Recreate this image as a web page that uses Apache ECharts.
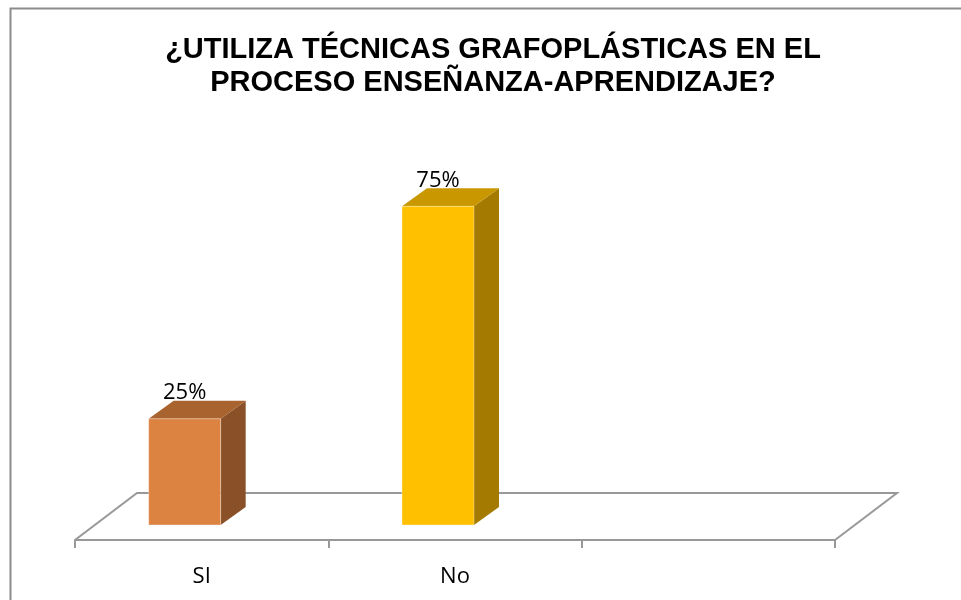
<!DOCTYPE html>
<html lang="es">
  <head>
    <meta charset="UTF-8" />
    <title>Técnicas grafoplásticas</title>
    <script src="https://cdn.jsdelivr.net/npm/echarts@6.0.0/dist/echarts.min.js"></script>
    <style>
      html, body { margin: 0; padding: 0; background: #fff; }
    </style>
  </head>
  <body>
    <div id="main" style="width: 961px; height: 600px"></div>
  </body>
  <script>
    // datos
    var categories = ["SI", "No", ""];
    var values = [25, 75, null];
    var valueLabels = ["25%", "75%", ""];

    // colores de cada barra: frente, tapa, lado
    var shades = [
      ["#DC8342", "#A9632F", "#8A5128"],
      ["#FFC000", "#C99700", "#A47B00"],
    ];

    var floorDx = 62, floorDy = -47; // profundidad del piso
    var barDx = 25, barDy = -18;     // profundidad de la barra

    var myChart = echarts.init(document.getElementById("main"));

    function renderFloor(params, api) {
      var cs = params.coordSys;
      var x0 = cs.x, x1 = cs.x + cs.width, y0 = cs.y + cs.height;
      return {
        type: "polyline",
        shape: {
          points: [
            [x0, y0],
            [x0 + floorDx, y0 + floorDy],
            [x1 + floorDx, y0 + floorDy],
            [x1, y0],
          ],
        },
        style: { stroke: "#989898", lineWidth: 2, fill: null },
        silent: true,
      };
    }

    function renderBar(params, api) {
      var idx = api.value(0);
      var base = api.coord([idx, 0]);
      var top = api.coord([idx, api.value(1)]);
      var fl = base[0] - 53, fr = fl + 72;
      var bot = base[1] - 15, tp = top[1] - 15;
      var c = shades[idx];
      return {
        type: "group",
        children: [
          {
            type: "polygon",
            shape: { points: [[fr, tp], [fr + barDx, tp + barDy], [fr + barDx, bot + barDy], [fr, bot]] },
            style: { fill: c[2] },
          },
          {
            type: "polygon",
            shape: { points: [[fl, tp], [fr, tp], [fr + barDx, tp + barDy], [fl + barDx, tp + barDy]] },
            style: { fill: c[1] },
          },
          {
            type: "rect",
            shape: { x: fl, y: tp, width: 72, height: bot - tp },
            style: { fill: c[0], stroke: "rgba(255,255,255,0.35)", lineWidth: 1 },
          },
          {
            type: "text",
            x: fl + 36,
            y: tp - 26,
            style: {
              text: valueLabels[idx],
              fill: "#000",
              font: '22px "Open Sans"',
              align: "center",
              verticalAlign: "middle",
            },
          },
        ],
      };
    }

    var barData = [];
    values.forEach(function (v, i) {
      if (v !== null) barData.push([i, v]);
    });

    var option = {
      animation: false,
      backgroundColor: "#fff",
      title: {
        text: "¿UTILIZA TÉCNICAS GRAFOPLÁSTICAS EN EL\nPROCESO ENSEÑANZA-APRENDIZAJE?",
        left: 488,
        top: 28,
        textAlign: "center",
        textStyle: {
          fontFamily: '"Liberation Sans", Arial, sans-serif',
          fontWeight: "bold",
          fontSize: 29,
          lineHeight: 33,
          color: "#000",
        },
      },
      graphic: [
        {
          type: "rect",
          left: 8,
          top: 6,
          shape: { width: 1000, height: 1000 },
          style: { fill: null, stroke: "#8c8c8c", lineWidth: 2 },
          silent: true,
        },
      ],
      grid: { left: 75, right: 126, top: 115, bottom: 60 },
      xAxis: {
        type: "category",
        data: categories,
        axisLine: { lineStyle: { color: "#989898", width: 2 } },
        axisTick: { show: true, length: 8, lineStyle: { color: "#989898", width: 2 } },
        axisLabel: {
          fontFamily: '"Open Sans"',
          fontSize: 22,
          color: "#000",
          margin: 26,
        },
      },
      yAxis: {
        type: "value",
        min: 0,
        max: 100,
        show: false,
        splitLine: { show: false },
      },
      series: [
        {
          type: "custom",
          z: 1,
          renderItem: renderFloor,
          data: [[0, 0]],
        },
        {
          type: "custom",
          z: 2,
          renderItem: renderBar,
          data: barData,
        },
      ],
    };

    myChart.setOption(option);
  </script>
</html>
